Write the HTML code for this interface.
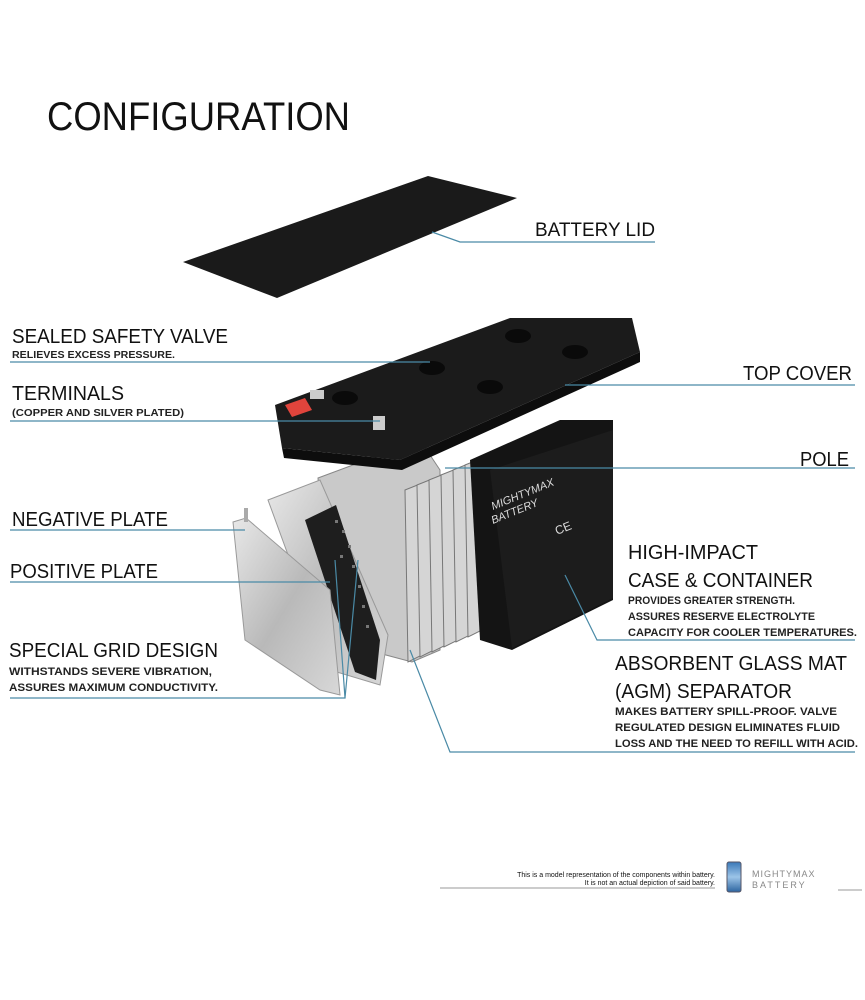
<!DOCTYPE html>
<html><head><meta charset="utf-8"><style>
html,body{margin:0;padding:0;background:#fff;}
svg{display:block;}
text{font-family:"Liberation Sans",sans-serif;fill:#111;}
.s{font-weight:bold;fill:#222;}
</style></head><body>
<svg width="865" height="1000" viewBox="0 0 865 1000" xmlns="http://www.w3.org/2000/svg">
<defs>
<linearGradient id="pl" x1="0" y1="0" x2="1" y2="1"><stop offset="0" stop-color="#e8e8e8"/><stop offset="0.5" stop-color="#b9b9b9"/><stop offset="1" stop-color="#d8d8d8"/></linearGradient>
<linearGradient id="bat" x1="0" y1="0" x2="0" y2="1"><stop offset="0" stop-color="#3a78b8"/><stop offset="0.5" stop-color="#9cc4e8"/><stop offset="1" stop-color="#2d65a0"/></linearGradient>
</defs>
<rect width="865" height="1000" fill="#fff"/>
<text x="47" y="130" font-size="40" textLength="303" lengthAdjust="spacingAndGlyphs">CONFIGURATION</text>

<polygon points="183,262 428,176 517,198 277,298" fill="#1a1a1a"/>

<polygon points="318,478 420,440 440,470 440,650 412,662 330,640" fill="#c9c9c9" stroke="#888" stroke-width="1"/>
<g fill="#d5d5d5" stroke="#777" stroke-width="1">
<polygon points="405,490 420,484 422,655 408,662"/>
<polygon points="417,485 432,479 434,650 420,657"/>
<polygon points="429,480 444,474 446,645 432,652"/>
<polygon points="441,475 456,469 458,640 444,647"/>
<polygon points="453,470 468,464 470,635 456,642"/>
<polygon points="465,465 480,459 482,630 468,637"/>
</g>
<polygon points="470,460 560,420 613,420 613,600 512,650 480,640" fill="#141414"/>
<polygon points="490,470 613,430 613,598 512,648" fill="#1c1c1c"/>
<text x="0" y="0" font-size="11" style="fill:#ddd" transform="translate(493,510) rotate(-22)" font-style="italic">MIGHTYMAX</text>
<text x="0" y="0" font-size="11" style="fill:#ddd" transform="translate(493,524) rotate(-22)" font-style="italic">BATTERY</text>
<text x="0" y="0" font-size="12" style="fill:#ddd" transform="translate(557,535) rotate(-22)">CE</text>

<polygon points="268,500 320,480 388,635 380,685 330,670" fill="url(#pl)" stroke="#999"/>
<polygon points="305,520 336,505 380,640 376,680 355,672" fill="#1e1e1e"/>
<g fill="#777"><rect x="335" y="520" width="3" height="3"/><rect x="342" y="530" width="3" height="3"/><rect x="348" y="545" width="3" height="3"/><rect x="340" y="555" width="3" height="3"/><rect x="352" y="565" width="3" height="3"/><rect x="358" y="585" width="3" height="3"/><rect x="362" y="605" width="3" height="3"/><rect x="366" y="625" width="3" height="3"/></g>
<polygon points="233,522 246,518 330,590 340,695 320,690 245,640" fill="url(#pl)" stroke="#999"/>
<rect x="244" y="508" width="4" height="14" fill="#aaa"/>

<polygon points="275,405 510,318 632,318 640,352 400,460 282,448" fill="#1b1b1b"/>
<polygon points="282,448 400,460 640,352 640,362 402,470 284,458" fill="#0d0d0d"/>
<g fill="#0a0a0a"><ellipse cx="432" cy="368" rx="13" ry="7"/><ellipse cx="518" cy="336" rx="13" ry="7"/><ellipse cx="575" cy="352" rx="13" ry="7"/><ellipse cx="490" cy="387" rx="13" ry="7"/><ellipse cx="345" cy="398" rx="13" ry="7"/></g>
<polygon points="285,405 305,398 312,410 292,417" fill="#e0443c"/>
<rect x="310" y="390" width="14" height="9" fill="#ccc"/>
<rect x="373" y="416" width="12" height="14" fill="#ccc"/>

<g stroke="#4a8aa6" stroke-width="1.2" fill="none">
<polyline points="432,232 460,242 655,242"/>
<line x1="10" y1="362" x2="430" y2="362"/>
<line x1="10" y1="421" x2="380" y2="421"/>
<line x1="565" y1="385" x2="855" y2="385"/>
<line x1="445" y1="468" x2="855" y2="468"/>
<line x1="10" y1="530" x2="245" y2="530"/>
<line x1="10" y1="582" x2="330" y2="582"/>
<polyline points="10,698 345,698 335,560"/>
<line x1="345" y1="698" x2="358" y2="560"/>
<polyline points="565,575 597,640 855,640"/>
<polyline points="410,650 450,752 855,752"/>
</g>

<g lengthAdjust="spacingAndGlyphs">
<text x="535" y="236" font-size="19" textLength="120" lengthAdjust="spacingAndGlyphs">BATTERY LID</text>
<text x="12" y="343" font-size="20" textLength="216" lengthAdjust="spacingAndGlyphs">SEALED SAFETY VALVE</text>
<text class="s" x="12" y="358" font-size="10" textLength="163" lengthAdjust="spacingAndGlyphs">RELIEVES EXCESS PRESSURE.</text>
<text x="12" y="400" font-size="20" textLength="112" lengthAdjust="spacingAndGlyphs">TERMINALS</text>
<text class="s" x="12" y="416" font-size="10" textLength="172" lengthAdjust="spacingAndGlyphs">(COPPER AND SILVER PLATED)</text>
<text x="743" y="380" font-size="20" textLength="109" lengthAdjust="spacingAndGlyphs">TOP COVER</text>
<text x="800" y="466" font-size="20" textLength="49" lengthAdjust="spacingAndGlyphs">POLE</text>
<text x="12" y="526" font-size="20" textLength="156" lengthAdjust="spacingAndGlyphs">NEGATIVE PLATE</text>
<text x="10" y="578" font-size="20" textLength="148" lengthAdjust="spacingAndGlyphs">POSITIVE PLATE</text>
<text x="9" y="657" font-size="20" textLength="209" lengthAdjust="spacingAndGlyphs">SPECIAL GRID DESIGN</text>
<text class="s" x="9" y="675" font-size="11" textLength="203" lengthAdjust="spacingAndGlyphs">WITHSTANDS SEVERE VIBRATION,</text>
<text class="s" x="9" y="691" font-size="11" textLength="209" lengthAdjust="spacingAndGlyphs">ASSURES MAXIMUM CONDUCTIVITY.</text>
<text x="628" y="559" font-size="20" textLength="130" lengthAdjust="spacingAndGlyphs">HIGH-IMPACT</text>
<text x="628" y="587" font-size="20" textLength="185" lengthAdjust="spacingAndGlyphs">CASE &amp; CONTAINER</text>
<text class="s" x="628" y="604" font-size="11" textLength="167" lengthAdjust="spacingAndGlyphs">PROVIDES GREATER STRENGTH.</text>
<text class="s" x="628" y="620" font-size="11" textLength="187" lengthAdjust="spacingAndGlyphs">ASSURES RESERVE ELECTROLYTE</text>
<text class="s" x="628" y="636" font-size="11" textLength="229" lengthAdjust="spacingAndGlyphs">CAPACITY FOR COOLER TEMPERATURES.</text>
<text x="615" y="670" font-size="20" textLength="232" lengthAdjust="spacingAndGlyphs">ABSORBENT GLASS MAT</text>
<text x="615" y="698" font-size="20" textLength="177" lengthAdjust="spacingAndGlyphs">(AGM) SEPARATOR</text>
<text class="s" x="615" y="715" font-size="11" textLength="222" lengthAdjust="spacingAndGlyphs">MAKES BATTERY SPILL-PROOF. VALVE</text>
<text class="s" x="615" y="731" font-size="11" textLength="225" lengthAdjust="spacingAndGlyphs">REGULATED DESIGN ELIMINATES FLUID</text>
<text class="s" x="615" y="747" font-size="11" textLength="243" lengthAdjust="spacingAndGlyphs">LOSS AND THE NEED TO REFILL WITH ACID.</text>
</g>

<text x="715" y="877" font-size="7" text-anchor="end">This is a model representation of the components within battery.</text>
<text x="715" y="885" font-size="7" text-anchor="end">It is not an actual depiction of said battery.</text>
<line x1="440" y1="888" x2="715" y2="888" stroke="#999" stroke-width="1"/>
<rect x="727" y="862" width="14" height="30" rx="2" fill="url(#bat)" stroke="#556"/>
<text x="752" y="877" font-size="9" style="fill:#888" letter-spacing="1">MIGHTYMAX</text>
<text x="752" y="888" font-size="9" style="fill:#888" letter-spacing="2">BATTERY</text>
<line x1="838" y1="890" x2="862" y2="890" stroke="#999" stroke-width="1"/>
</svg>
</body></html>
